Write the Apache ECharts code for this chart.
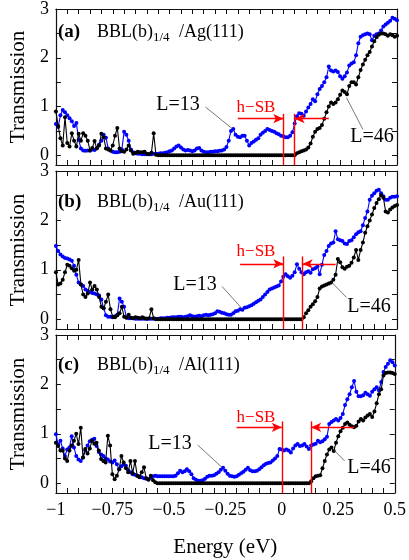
<!DOCTYPE html>
<html>
<head>
<meta charset="utf-8">
<script src="https://cdn.jsdelivr.net/npm/echarts@6/dist/echarts.min.js"></script>
<style>
  html, body { margin: 0; padding: 0; background: #fff; }
  #chart { width: 409px; height: 560px; }
</style>
</head>
<body>
<div id="chart"></div>
<script>
// energy grid: -1 .. 0.5 eV, 0.01 step
const E_START = -1, E_STEP = 0.01, N_PTS = 151;
const energy = [];
for (let i = 0; i < N_PTS; i++) energy.push(+(E_START + i * E_STEP).toFixed(2));

// (a) Ag(111)
const agL13 = [
  0.64,0.58,0.82,0.93,0.88,0.82,0.76,0.70,0.60,0.66,
  0.32,0.14,0.10,0.09,0.10,0.10,0.12,0.11,0.15,0.22,
  0.30,0.42,0.36,0.14,0.10,0.07,0.06,0.06,0.07,0.12,
  0.48,0.42,0.30,0.12,0.06,0.04,0.03,0.03,0.02,0.02,
  0.02,0.02,0.02,0.03,0.03,0.03,0.04,0.04,0.05,0.06,
  0.08,0.10,0.14,0.18,0.20,0.16,0.12,0.10,0.11,0.10,
  0.08,0.10,0.14,0.15,0.10,0.07,0.06,0.06,0.07,0.07,
  0.08,0.08,0.09,0.10,0.12,0.17,0.30,0.50,0.54,0.42,
  0.38,0.37,0.40,0.40,0.30,0.20,0.25,0.28,0.32,0.35,
  0.42,0.46,0.50,0.54,0.52,0.50,0.48,0.45,0.43,0.40,
  0.39,0.37,0.37,0.40,0.47,0.65,0.80,0.86,0.85,0.81,
  0.90,0.98,1.05,1.15,1.11,1.25,1.36,1.42,1.50,1.60,
  1.82,1.74,1.72,1.74,1.71,1.62,1.57,1.62,1.70,1.84,
  1.88,1.91,2.05,2.30,2.43,2.46,2.48,2.50,2.48,2.36,
  2.45,2.48,2.50,2.56,2.64,2.68,2.72,2.76,2.82,2.80,2.77
];
const agL46 = [
  0.90,0.60,0.35,0.20,0.78,0.25,0.18,0.45,0.30,0.18,
  0.44,0.30,0.45,0.40,0.30,0.10,0.15,0.29,0.14,0.20,
  0.44,0.37,0.14,0.12,0.10,0.20,0.40,0.56,0.14,0.08,
  0.07,0.12,0.20,0.10,0.03,0.05,0.07,0.06,0.06,0.07,
  0.03,0.02,0.05,0.45,0.01,0,0,0,0,0,
  0,0,0,0,0,0,0,0,0,0,
  0,0,0,0,0,0,0,0,0,0,
  0,0,0,0,0,0,0,0,0,0,
  0,0,0,0,0,0,0,0,0,0,
  0,0,0,0,0,0,0,0,0,0,
  0,0,0,0,0,0,0.04,0.06,0.08,0.10,
  0.12,0.16,0.24,0.38,0.48,0.54,0.56,0.62,0.75,0.88,
  1.00,1.08,1.05,1.08,1.15,1.24,1.33,1.30,1.25,1.42,
  1.50,1.50,1.45,1.60,1.75,1.86,1.96,2.05,2.12,2.23,
  2.34,2.42,2.47,2.50,2.50,2.48,2.45,2.48,2.46,2.43,2.45
];

// (b) Au(111)
const auL13 = [
  1.48,1.38,1.31,1.27,1.24,1.23,1.21,1.18,1.08,0.90,
  0.74,0.70,0.67,0.60,0.57,0.55,0.53,0.52,0.50,0.48,
  0.40,0.22,0.08,0.05,0.05,0.04,0.06,0.09,0.42,0.35,
  0.25,0.04,0.02,0.02,0.02,0.01,0.01,0.01,0.01,0.01,
  0.01,0.01,0.01,0.01,0.01,0.01,0.02,0.02,0.02,0.03,
  0.03,0.04,0.04,0.04,0.05,0.05,0.04,0.05,0.06,0.08,
  0.06,0.05,0.06,0.07,0.06,0.08,0.09,0.08,0.09,0.10,
  0.12,0.16,0.15,0.13,0.12,0.10,0.09,0.09,0.12,0.16,
  0.17,0.20,0.19,0.23,0.24,0.26,0.28,0.31,0.34,0.37,
  0.40,0.45,0.50,0.55,0.60,0.62,0.64,0.66,0.68,0.76,
  0.86,0.91,0.87,0.84,0.88,0.95,1.11,1.02,0.95,0.91,
  0.95,0.97,0.94,1.01,1.03,1.07,0.91,1.10,1.30,1.38,
  1.48,1.53,1.55,1.78,1.62,1.60,1.58,1.53,1.52,1.58,
  1.60,1.66,1.72,1.76,1.78,1.90,2.05,2.18,2.42,2.50,
  2.55,2.60,2.62,2.55,2.49,2.42,2.42,2.46,2.48,2.48,2.49
];
const auL46 = [
  0.95,0.70,0.72,0.80,0.95,1.10,1.08,1.03,0.98,1.00,
  1.20,0.70,0.50,0.45,0.52,0.74,0.60,0.67,0.60,0.45,
  0.25,0.22,0.35,0.50,0.20,0.05,0.04,0.08,0.12,0.25,
  0.05,0.03,0.09,0.03,0.02,0.04,0.03,0.02,0.04,0.02,
  0.01,0.02,0.20,0.02,0,0,0,0,0,0,
  0,0,0,0,0,0,0,0,0,0,
  0,0,0,0,0,0,0,0,0,0,
  0,0,0,0,0,0,0,0,0,0,
  0,0,0,0,0,0,0,0,0,0,
  0,0,0,0,0,0,0,0,0,0,
  0,0,0,0,0,0,0,0,0,0.04,
  0.12,0.18,0.25,0.30,0.36,0.45,0.62,0.66,0.68,0.70,
  0.72,0.74,0.80,0.90,1.22,1.15,1.05,1.02,1.06,1.08,
  1.14,1.25,1.40,1.20,1.40,1.55,1.75,1.88,2.00,2.12,
  2.25,2.35,2.43,2.51,2.46,2.18,2.16,2.22,2.26,2.29,2.31
];

// (c) Al(111)
const alL13 = [
  0.99,0.78,0.86,0.70,0.55,0.68,0.72,0.95,0.72,0.55,
  0.48,0.45,0.52,0.66,0.76,0.85,0.88,0.90,0.75,0.63,
  0.58,0.55,0.50,0.48,0.44,0.42,0.46,0.38,0.28,0.34,
  0.38,0.35,0.26,0.22,0.18,0.17,0.15,0.14,0.12,0.10,
  0.09,0.08,0.11,0.14,0.15,0.14,0.14,0.14,0.14,0.14,
  0.14,0.14,0.14,0.15,0.20,0.25,0.22,0.24,0.28,0.24,
  0.18,0.10,0.07,0.05,0.05,0.06,0.09,0.13,0.15,0.15,
  0.16,0.19,0.22,0.27,0.31,0.25,0.19,0.15,0.14,0.13,
  0.14,0.17,0.20,0.23,0.27,0.31,0.26,0.24,0.24,0.25,
  0.28,0.32,0.36,0.39,0.41,0.42,0.46,0.50,0.55,0.69,
  0.68,0.66,0.68,0.66,0.62,0.70,0.76,0.79,0.75,0.76,
  0.79,0.74,0.69,0.76,0.78,0.80,0.86,0.83,0.85,0.89,
  0.94,1.20,1.24,1.27,1.30,1.27,1.32,1.40,1.58,1.70,
  1.80,1.94,2.07,1.85,1.76,1.76,1.78,1.83,1.80,1.77,
  1.85,1.90,1.94,1.88,2.05,2.25,2.35,2.42,2.49,2.45,2.38
];
const alL46 = [
  0.82,0.75,0.66,0.66,0.50,0.45,0.66,0.76,0.86,1.00,
  0.79,1.12,0.52,0.69,0.60,0.70,0.86,0.80,0.82,0.66,
  0.49,0.45,0.42,0.96,0.76,0.18,0.08,0.15,0.28,0.55,
  0.42,0.30,0.22,0.45,0.20,0.45,0.15,0.12,0.22,0.32,
  0.10,0.07,0.15,0.06,0.02,0,0,0,0,0,
  0,0,0,0,0,0,0,0,0,0,
  0,0,0,0,0,0,0,0,0,0,
  0,0,0,0,0,0,0,0,0,0,
  0,0,0,0,0,0,0,0,0,0,
  0,0,0,0,0,0,0,0,0,0,
  0,0,0,0,0,0,0,0,0,0,
  0,0,0,0.04,0.10,0.14,0.15,0.16,0.30,0.45,
  0.58,0.68,0.72,0.65,0.82,0.95,1.05,1.12,1.20,1.23,
  1.18,1.15,1.13,1.16,1.25,1.30,1.27,1.33,1.37,1.40,
  1.34,1.45,1.62,1.80,1.90,2.18,2.23,2.24,2.24,2.23,2.21
];

// annotation positions per panel (data coords)
const sbLines   = [[0, 0.05], [0, 0.085], [0, 0.13]];     // red h-SB markers
const sbTops    = [0.85, 1.27, 1.25];
const arrowY    = [0.75, 1.12, 1.13];
const arrowFrom = [[-0.2, 0.2], [-0.19, 0.23], [-0.2, 0.32]];
const lead13 = [[[-0.342, 0.99], [-0.226, 0.55]], [[-0.269, 0.66], [-0.179, 0.2]], [[-0.372, 0.77], [-0.265, 0.32]]];
const lead46 = [[[0.35, 0.53], [0.278, 1.18]], [[0.278, 0.44], [0.214, 0.74]], [[0.278, 0.45], [0.226, 0.69]]];

const panels = [
  { tag: '(a)', metal: '/Ag(111)', l13: agL13, l46: agL46 },
  { tag: '(b)', metal: '/Au(111)', l13: auL13, l46: auL46 },
  { tag: '(c)', metal: '/Al(111)', l13: alL13, l46: alL46 }
];
const tops = [7, 171, 335];
const PH = 158;
const FONT = "'Liberation Serif', 'DejaVu Serif', serif";

const xTicks = [];
for (let k = 0; k <= 30; k++) xTicks.push(+(-1 + k * 0.05).toFixed(2));
const xLabels = [-1, -0.75, -0.5, -0.25, 0, 0.25, 0.5];
const yTicks = [0, 0.5, 1, 1.5, 2, 2.5, 3];
const yLabels = [0, 1, 2, 3];

const axLine = { show: true, onZero: false, lineStyle: { color: '#111', width: 1.2 } };
const tickIn = (vals) => ({ show: true, inside: true, length: 5, customValues: vals, lineStyle: { color: '#111', width: 1 } });

let grid = [], xAxis = [], yAxis = [], series = [], graphic = [];

panels.forEach((p, k) => {
  grid.push({ left: 46, right: 12, top: tops[k], height: PH });
  xAxis.push({
    type: 'value', gridIndex: k, min: -1, max: 0.5, position: 'bottom',
    axisLine: axLine, axisTick: tickIn(xTicks), splitLine: { show: false },
    axisLabel: k === 2 ? {
      show: true, customValues: xLabels, margin: 8, color: '#000', fontFamily: FONT, fontSize: 18,
      formatter: v => String(v).replace('-', '\u2212')
    } : { show: false },
    name: k === 2 ? 'Energy (eV)' : '', nameLocation: 'middle', nameGap: 44,
    nameTextStyle: { fontFamily: FONT, fontSize: 21, color: '#000' }
  });
  xAxis.push({
    type: 'value', gridIndex: k, min: -1, max: 0.5, position: 'top',
    axisLine: axLine, axisTick: tickIn(xTicks), axisLabel: { show: false }, splitLine: { show: false }
  });
  yAxis.push({
    type: 'value', gridIndex: k, min: -0.2, max: 3, position: 'left',
    axisLine: axLine, axisTick: tickIn(yTicks), splitLine: { show: false },
    axisLabel: { show: true, customValues: yLabels, margin: 7, color: '#000', fontFamily: FONT, fontSize: 18 },
    name: 'Transmission', nameLocation: 'middle', nameGap: 26,
    nameTextStyle: { fontFamily: FONT, fontSize: 21, color: '#000' }
  });
  yAxis.push({
    type: 'value', gridIndex: k, min: -0.2, max: 3, position: 'right',
    axisLine: axLine, axisTick: tickIn(yTicks), axisLabel: { show: false }, splitLine: { show: false }
  });

  const red = { color: '#ff0000', width: 1.4, type: 'solid' };
  const grey = { color: '#555', width: 0.8, type: 'solid' };
  const [x0, x1] = sbLines[k];
  const ay = arrowY[k];
  const arrowEnd = { symbol: 'arrow', symbolSize: [7, 10] };
  series.push({
    type: 'line', xAxisIndex: 2 * k, yAxisIndex: 2 * k,
    data: energy.map((e, i) => [e, p.l13[i]]),
    symbol: 'circle', symbolSize: 4, showSymbol: true,
    itemStyle: { color: '#0000ff' }, lineStyle: { color: '#0000ff', width: 1.1 },
    animation: false, z: 2,
    markLine: {
      silent: true, symbol: 'none', animation: false, label: { show: false },
      data: [
        [{ coord: [x0, -0.2], lineStyle: red }, { coord: [x0, sbTops[k]] }],
        [{ coord: [x1, -0.2], lineStyle: red }, { coord: [x1, sbTops[k]] }],
        [{ coord: [arrowFrom[k][0], ay], lineStyle: red, symbol: 'none' }, Object.assign({ coord: [x0, ay] }, arrowEnd)],
        [{ coord: [arrowFrom[k][1], ay], lineStyle: red, symbol: 'none' }, Object.assign({ coord: [x1, ay] }, arrowEnd)],
        [{ coord: lead13[k][0], lineStyle: grey }, { coord: lead13[k][1] }],
        [{ coord: lead46[k][0], lineStyle: grey }, { coord: lead46[k][1] }]
      ]
    }
  });
  series.push({
    type: 'line', xAxisIndex: 2 * k, yAxisIndex: 2 * k,
    data: energy.map((e, i) => [e, p.l46[i]]),
    symbol: 'circle', symbolSize: 4, showSymbol: true,
    itemStyle: { color: '#000' }, lineStyle: { color: '#000', width: 1.1 },
    animation: false, z: 3
  });
});

// text labels (pixel positions)
const titleY = [32, 202, 365];
const hsbY = [108, 252, 418];
const l13Pos = [[178, 105], [195, 285], [170, 444]];
const l46Pos = [[372, 137], [369, 307], [369, 468]];
const txt = (x, y, s, extra) => ({
  type: 'text', x: x, y: y, silent: true,
  style: Object.assign({ text: s, fill: '#000', fontFamily: FONT, fontSize: 18, verticalAlign: 'middle' }, extra || {})
});
panels.forEach((p, k) => {
  const ty = titleY[k];
  graphic.push(txt(58, ty, p.tag, { fontWeight: 'bold', fontSize: 19 }));
  graphic.push(txt(97, ty, 'BBL(b)'));
  graphic.push(txt(153, ty + 6, '1/4', { fontSize: 13 }));
  graphic.push(txt(179, ty, p.metal));
  graphic.push(txt(256, hsbY[k], 'h\u2212SB', { fill: '#ff0000', fontSize: 17, align: 'center' }));
  graphic.push(txt(l13Pos[k][0], l13Pos[k][1], 'L=13', { fontSize: 20, align: 'center' }));
  graphic.push(txt(l46Pos[k][0], l46Pos[k][1], 'L=46', { fontSize: 20, align: 'center' }));
});

const chart = echarts.init(document.getElementById('chart'), null, { renderer: 'canvas' });
chart.setOption({
  backgroundColor: '#fff',
  animation: false,
  grid: grid, xAxis: xAxis, yAxis: yAxis, series: series, graphic: graphic
});
</script>
</body>
</html>
